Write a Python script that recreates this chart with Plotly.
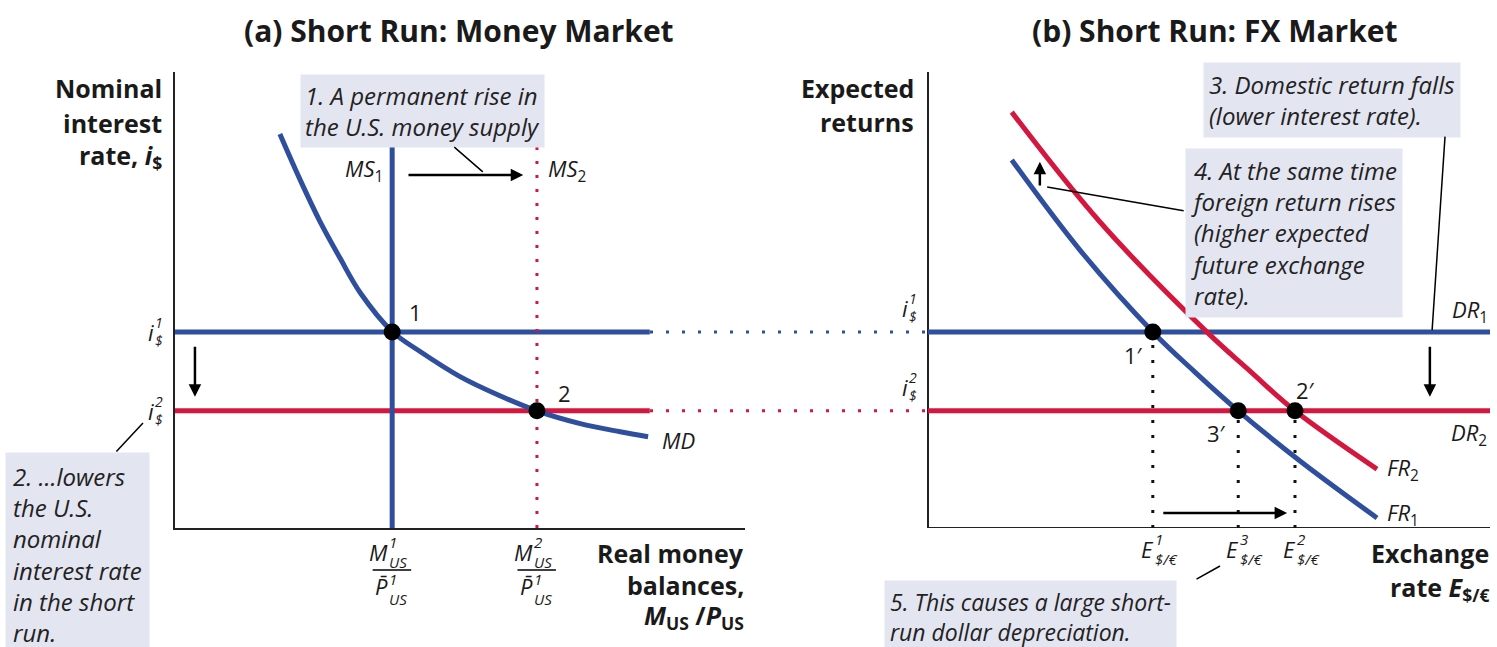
import plotly.graph_objects as go

W, H = 1497, 647
BLUE = "#2f4f9e"
RED = "#d3173f"
BOXC = "#e3e5f0"
FONT = "Open Sans"

# ---------------- data (abstract units 0-100) ----------------
i_levels = [43.0, 25.7]            # i$^1, i$^2
ms_levels = [38.1, 63.5]           # M1/P1, M2/P1
ms_top = 84.0
rate_end = 83.3
md_x = [18.4, 21.9, 25.4, 28.9, 32.5, 38.1, 43.0, 50.0, 57.0, 63.5, 71.1, 78.1, 83.0]
md_y = [86.4, 76.5, 67.3, 59.3, 51.6, 43.1, 38.7, 33.2, 29.0, 25.7, 22.9, 21.1, 20.0]

e_levels = [40.0, 55.2, 65.3]      # E1, E3, E2
e_names = ["1", "3", "2"]
e_rates = [43.0, 25.7, 25.7]
pt_names = ["1′", "3′", "2′"]
fr1_x = [14.9, 27.0, 40.0, 47.5, 55.2, 66.2, 79.9]
fr1_y = [80.7, 61.0, 43.0, 34.2, 25.7, 14.7, 2.2]
fr2_x = [14.9, 30.6, 49.6, 57.3, 65.3, 79.9]
fr2_y = [91.2, 67.1, 43.0, 34.4, 25.7, 12.9]

fig = go.Figure()

def line(x, y, color, width=5, dash=None, xa="x", ya="y", shape="linear"):
    fig.add_trace(go.Scatter(x=x, y=y, mode="lines", xaxis=xa, yaxis=ya,
                             line=dict(color=color, width=width, dash=dash, shape=shape),
                             hoverinfo="skip"))

# ---------- left panel ----------
line([0, rate_end], [i_levels[0]] * 2, BLUE)
line([0, rate_end], [i_levels[1]] * 2, RED)
line([ms_levels[0]] * 2, [0, ms_top], BLUE)
line([ms_levels[1]] * 2, [0, ms_top], RED, width=3, dash="3px,11px")
line(md_x, md_y, BLUE, shape="spline")
fig.add_trace(go.Scatter(x=ms_levels, y=i_levels, mode="markers", xaxis="x", yaxis="y",
                         marker=dict(color="black", size=17), hoverinfo="skip"))

# ---------- right panel ----------
line([0, 0, 100], [100, 0, 0], "#222", width=2, xa="x2", ya="y2")
line([-49.47, 0], [i_levels[0]] * 2, BLUE, width=3, dash="3px,13px", xa="x2", ya="y2")
line([-49.47, 0], [i_levels[1]] * 2, RED, width=3, dash="3px,13px", xa="x2", ya="y2")
line([0, 100], [i_levels[0]] * 2, BLUE, xa="x2", ya="y2")
line([0, 100], [i_levels[1]] * 2, RED, xa="x2", ya="y2")
for e, r in zip(e_levels, e_rates):
    line([e, e], [0, r], "#111", width=3, dash="3px,12px", xa="x2", ya="y2")
line(fr2_x, fr2_y, RED, xa="x2", ya="y2", shape="spline")
line(fr1_x, fr1_y, BLUE, xa="x2", ya="y2", shape="spline")
fig.add_trace(go.Scatter(x=e_levels, y=e_rates, mode="markers", xaxis="x2", yaxis="y2",
                         marker=dict(color="black", size=17), hoverinfo="skip"))

anns = []

def txt(x, y, text, xref, yref, size=22, xanchor="center", yanchor="middle", xshift=0, yshift=0,
        align="left", color="#1a1a1a", **kw):
    d = dict(x=x, y=y, xref=xref, yref=yref, text=text, showarrow=False, xanchor=xanchor,
             yanchor=yanchor, xshift=xshift, yshift=yshift, align=align,
             font=dict(family=FONT, size=size, color=color))
    d.update(kw)
    anns.append(d)

def stacked(x, y, base, sup, sub, xref, yref, xshift, yshift, size=22, small=14, dy=0):
    txt(x, y, f"<i>{base}</i>", xref, yref, size=size, xanchor="right", xshift=xshift, yshift=yshift)
    txt(x, y, f"<i>{sup}<br>{sub}</i>", xref, yref, size=small, xanchor="left",
        xshift=xshift - 3, yshift=yshift + dy)

def arrow(x, y, axv, ayv, xref, yref, head=2, width=2.5):
    anns.append(dict(x=x, y=y, ax=axv, ay=ayv, xref=xref, yref=yref, axref=xref, ayref=yref,
                     text="", showarrow=True, arrowhead=head, arrowsize=1, arrowwidth=width,
                     arrowcolor="black", standoff=0, startstandoff=0))

def pointer(x, y, dx, dy, xref, yref, width=1.5, xshift=0, yshift=0):
    anns.append(dict(x=x, y=y, ax=dx, ay=dy, xref=xref, yref=yref, text="", showarrow=True,
                     arrowhead=0, arrowwidth=width, arrowcolor="black", standoff=0,
                     xshift=xshift, yshift=yshift))

def px(p):
    return p / W

def py(p):
    return (H - p) / H

# titles
txt(px(459), py(31), "<b>(a) Short Run: Money Market</b>", "paper", "paper", size=30)
txt(px(1215), py(31), "<b>(b) Short Run: FX Market</b>", "paper", "paper", size=30)

# axis titles
for t, yy in zip(["<b>Nominal</b>", "<b>interest</b>", "<b>rate, <i>i</i><sub>$</sub></b>"], [88, 123, 157]):
    txt(px(164), py(yy), t, "paper", "paper", size=25, xanchor="right")
for t, yy in zip(["<b>Expected</b>", "<b>returns</b>"], [88, 122]):
    txt(px(916), py(yy), t, "paper", "paper", size=25, xanchor="right")
for t, yy in zip(["<b>Real money</b>", "<b>balances,</b>", "<b><i>M</i><sub>US</sub> /<i>P</i><sub>US</sub></b>"],
                 [553, 585, 616]):
    txt(px(746), py(yy), t, "paper", "paper", size=25, xanchor="right")
for t, yy in zip(["<b>Exchange</b>", "<b>rate <i>E</i><sub>$/€</sub></b>"], [553, 588]):
    txt(px(1491), py(yy), t, "paper", "paper", size=25, xanchor="right")

# y tick labels
for k, lv in enumerate(i_levels):
    stacked(0, lv, "i", str(k + 1), "$", "x", "y", xshift=-19, yshift=0)
    stacked(0, lv, "i", str(k + 1), "$", "x2", "y2", xshift=-18, yshift=24)

# x tick labels (fractions) left
for k, m in enumerate(ms_levels):
    stacked(m, 0, "M", str(k + 1), "US", "x", "y", xshift=-2, yshift=-24, small=15)
    pointer(m, 0, -40, 0, "x", "y", width=1.5, xshift=19, yshift=-42)
    stacked(m, 0, "P\u0304", "1", "US", "x", "y", xshift=-2, yshift=-58, small=15, dy=-3)

# x tick labels right
for e, n in zip(e_levels, e_names):
    stacked(e, 0, "E", n, "$/€", "x2", "y2", xshift=3, yshift=-21, small=15)

# curve & point labels
txt(40.7, 47.4, "1", "x", "y", size=22, xanchor="left")
txt(66.8, 29.6, "2", "x", "y", size=22, xanchor="left")
txt(85.1, 19.3, "<i>MD</i>", "x", "y", size=22, xanchor="left")
txt(36.9, 78.5, "<i>MS</i><sub>1</sub>", "x", "y", size=22, xanchor="right")
txt(65.0, 78.5, "<i>MS</i><sub>2</sub>", "x", "y", size=22, xanchor="left")
for e, r, n, dx, dy in zip(e_levels, e_rates, pt_names, [-3.5, -3.8, 1.8], [-5.1, -4.9, 4.6]):
    txt(e + dx, r + dy, n, "x2", "y2", size=22)
txt(100, 47.5, "<i>DR</i><sub>1</sub>", "x2", "y2", size=22, xanchor="right")
txt(99.8, 20.6, "<i>DR</i><sub>2</sub>", "x2", "y2", size=22, xanchor="right")
txt(81.3, 13.0, "<i>FR</i><sub>2</sub>", "x2", "y2", size=22, xanchor="left")
txt(81.3, 3.0, "<i>FR</i><sub>1</sub>", "x2", "y2", size=22, xanchor="left")

# arrows
arrow(61.1, 77.4, 40.7, 77.4, "x", "y")
arrow(3.5, 28.8, 3.5, 40.1, "x", "y")
arrow(89.3, 28.8, 89.3, 40.1, "x2", "y2")
arrow(63.9, 3.3, 41.6, 3.3, "x2", "y2")
arrow(19.9, 80.3, 19.9, 74.8, "x2", "y2", width=2.5)

# annotation boxes
def box(x, y, text, pad=9, size=24, xanchor="left"):
    anns.append(dict(x=x, y=y, xref="paper", yref="paper", text=text, showarrow=False,
                     xanchor=xanchor, yanchor="top", align="left", bgcolor=BOXC, borderpad=pad,
                     font=dict(family=FONT, size=size, color="#222")))

box(px(300), py(74), "<i>1. A permanent rise in<br>the U.S. money supply</i>", pad=4)
box(px(5), py(452), "<i>2. ...lowers<br>the U.S.<br>nominal<br>interest rate<br>in the short<br>run.</i>", pad=7)
box(px(1203), py(62), "<i>3. Domestic return falls<br>(lower interest rate).</i>", pad=5)
box(px(1185), py(148), "<i>4. At the same time<br>foreign return rises<br>(higher expected<br>future exchange<br>rate).</i>", pad=5)
box(px(884), py(580), "<i>5. This causes a large short-<br>run dollar depreciation.</i>", pad=5, size=23)

# pointer lines from boxes
pointer(54.0, 78.1, -30, -26, "x", "y")
pointer(px(143), py(423), -28, 30, "paper", "paper")
pointer(89.7, 43.4, 13, -195, "x2", "y2")
pointer(21.2, 74.8, 138, 24, "x2", "y2")
pointer(px(1220), py(566), -25, 14, "paper", "paper")

fig.update_layout(
    width=W, height=H, margin=dict(l=0, r=0, t=0, b=0),
    paper_bgcolor="white", plot_bgcolor="rgba(0,0,0,0)", showlegend=False,
    font=dict(family=FONT, color="#1a1a1a"),
    xaxis=dict(domain=[175 / W, 745 / W], range=[0, 100], showline=True, linecolor="#222",
               linewidth=2, showgrid=False, zeroline=False, showticklabels=False, ticks="",
               fixedrange=True, anchor="y"),
    yaxis=dict(domain=[(H - 528) / H, (H - 72) / H], range=[0, 100], showline=True, linecolor="#222",
               linewidth=2, showgrid=False, zeroline=False, showticklabels=False, ticks="",
               fixedrange=True, anchor="x"),
    xaxis2=dict(domain=[650 / W, 1490 / W], range=[-49.47, 100], visible=False, anchor="y2",
                fixedrange=True),
    yaxis2=dict(domain=[(H - 528) / H, (H - 72) / H], range=[0, 100], visible=False, anchor="x2",
                fixedrange=True),
    annotations=anns,
)

fig.write_html("out.html", config={"displayModeBar": False},
               post_script="document.body.style.margin='0px';document.body.style.overflow='hidden';")
